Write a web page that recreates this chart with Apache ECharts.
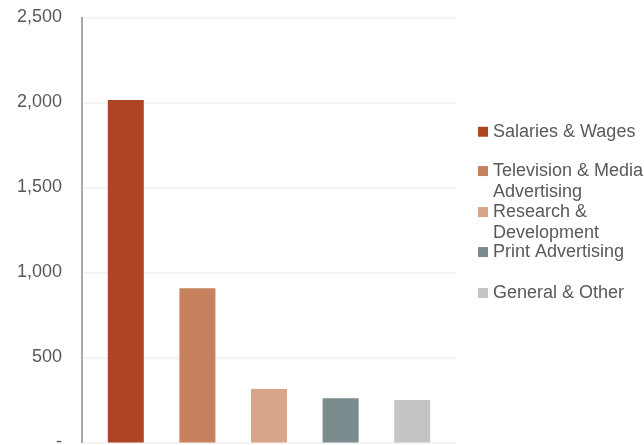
<!DOCTYPE html>
<html>
<head>
<meta charset="utf-8">
<script src="https://cdn.jsdelivr.net/npm/echarts@6/dist/echarts.min.js"></script>
<style>html,body{margin:0;padding:0;background:#fff}#c{width:644px;height:445px}</style>
</head>
<body>
<div id="c"></div>
<script>
const categories = ['Salaries & Wages', 'Television & Media Advertising', 'Research & Development', 'Print Advertising', 'General & Other'];
const legendLabels = ['Salaries & Wages', '\nTelevision & Media\nAdvertising', '\nResearch &\nDevelopment', 'Print Advertising', 'General & Other'];
const values = [2015, 908, 314, 261, 250];
const colors = ['#B04525', '#C8815E', '#D8A58A', '#7C8C8E', '#C4C4C6'];
const yTicks = [0, 500, 1000, 1500, 2000, 2500];
const yTickLabels = ['-', '500', '1,000', '1,500', '2,000', '2,500'];
const legendTops = [121.5, 140.3, 181.3, 241.8, 282.8];

const chart = echarts.init(document.getElementById('c'), null, {renderer: 'canvas'});
const font = 'Liberation Sans, Arial, sans-serif';

const series = categories.map((name, i) => ({
  name: name,
  type: 'bar',
  xAxisIndex: 1,
  yAxisIndex: 1,
  barWidth: 36,
  barGap: '-100%',
  itemStyle: {color: colors[i]},
  data: categories.map((c, j) => j === i ? values[i] : '-')
}));

const legends = categories.map((name, i) => ({
  data: [name],
  orient: 'vertical',
  left: 478,
  top: legendTops[i],
  padding: 0,
  itemWidth: 10,
  itemHeight: 10,
  icon: 'rect',
  selectedMode: false,
  formatter: () => legendLabels[i],
  textStyle: {fontFamily: font, fontSize: 18, color: '#595959', lineHeight: 20.5}
}));

chart.setOption({
  animation: false,
  backgroundColor: '#fff',
  grid: [
    {left: 82, top: 17.5, width: 374, height: 425, containLabel: false, outerBoundsMode: 'none'},
    {left: 90, top: 17.5, width: 358, height: 425, containLabel: false, outerBoundsMode: 'none'}
  ],
  xAxis: [
    {type: 'category', gridIndex: 0, data: categories, show: false},
    {type: 'category', gridIndex: 1, data: categories, show: false}
  ],
  yAxis: [
    {
      type: 'value', gridIndex: 0, min: 0, max: 2500, interval: 500,
      axisLine: {show: true, lineStyle: {color: '#8C8C8C', width: 1.5}},
      axisTick: {show: false},
      splitLine: {show: true, lineStyle: {color: '#F0F0F0', width: 1.5}},
      axisLabel: {
        margin: 20, fontFamily: font, fontSize: 18, color: '#595959',
        formatter: v => yTickLabels[yTicks.indexOf(v)]
      }
    },
    {type: 'value', gridIndex: 1, min: 0, max: 2500, interval: 500, show: false, splitLine: {show: false}}
  ],
  legend: legends,
  series: series
});
</script>
</body>
</html>
